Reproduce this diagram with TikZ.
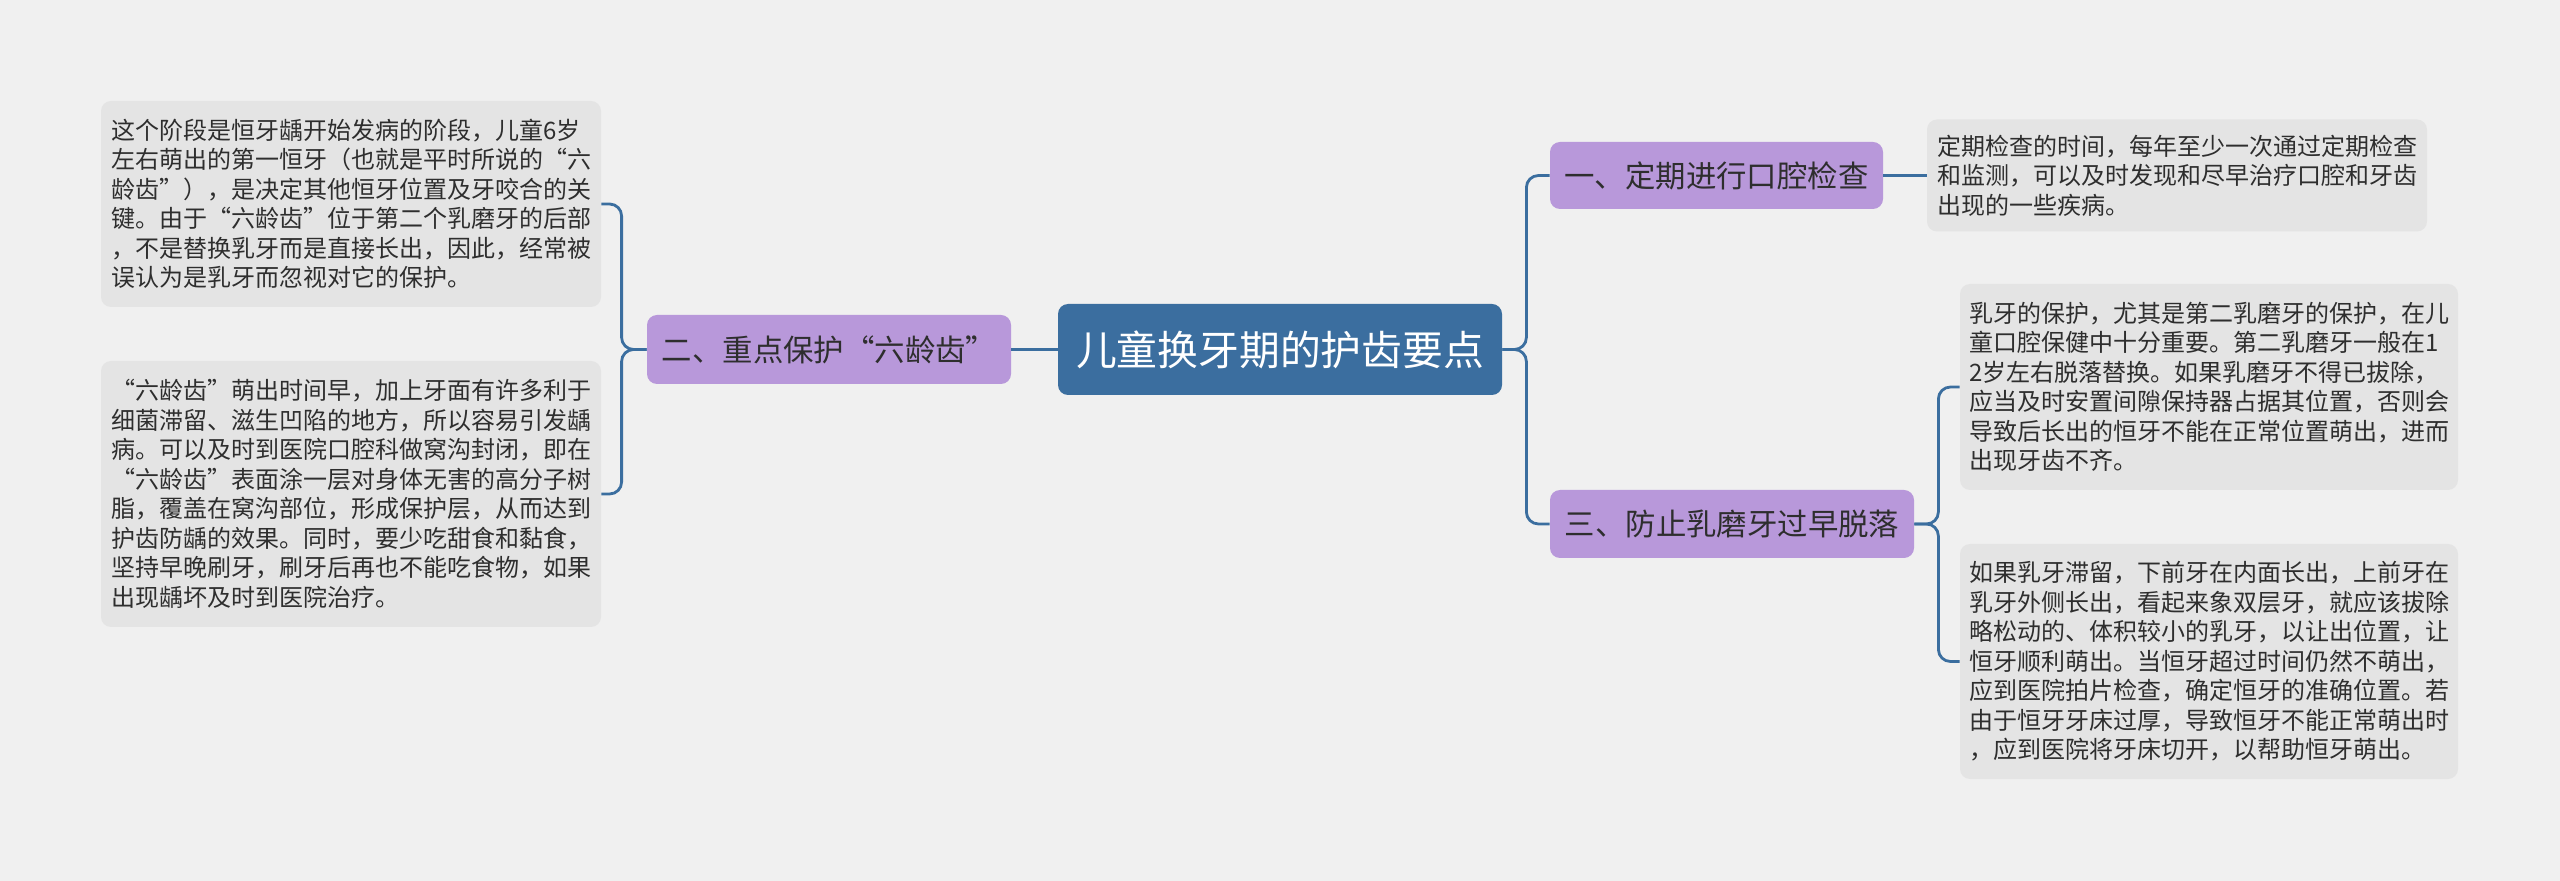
\documentclass[tikz,border=0pt]{standalone}
\usepackage{fontspec}
\setmainfont{Noto Sans CJK SC}
\usepackage{xcolor}
\usetikzlibrary{positioning, calc}
\definecolor{bgpaper}{HTML}{F0F0F0}
\definecolor{rootblue}{HTML}{3B6E9F}
\definecolor{topicpurple}{HTML}{B898DA}
\definecolor{leafgray}{HTML}{E4E4E4}
\definecolor{textdark}{HTML}{2E2E2E}
\begin{document}
\begin{tikzpicture}[
      x=0.5pt, y=-0.5pt,
      root/.style={fill=rootblue, rounded corners=5pt, text=white, inner sep=0pt,
        font=\fontsize{20.4}{24}\selectfont},
      topic/.style={fill=topicpurple, rounded corners=5pt, text=textdark, inner sep=0pt,
        font=\fontsize{15.2}{18}\selectfont},
      leaf/.style={fill=leafgray, rounded corners=5pt, text=textdark, inner sep=0pt,
        align=left, font=\fontsize{12}{14.75}\selectfont},
      link/.style={draw=rootblue, line width=1.4pt, rounded corners=6pt}]
    \useasboundingbox[fill=bgpaper] (0,0) rectangle (2560,881);
    % centre and main topics
    \node[root, minimum width=222pt, minimum height=45.5pt] (cen) at (1280,349.5) {儿童换牙期的护齿要点};
    \node[topic, minimum width=182pt, minimum height=34.5pt] (t2) at (829,349.5) {二、重点保护“六龄齿”};
    \node[topic, minimum width=166.5pt, minimum height=33.5pt] (t1) at (1716.5,175.5) {一、定期进行口腔检查};
    \node[topic, minimum width=182pt, minimum height=34pt] (t3) at (1732,524) {三、防止乳磨牙过早脱落};
    % notes
    \node[leaf, minimum width=250pt, minimum height=103pt] (n21) at (351,204) {%
这个阶段是恒牙龋开始发病的阶段，儿童6岁\\
左右萌出的第一恒牙（也就是平时所说的“六\\
龄齿”），是决定其他恒牙位置及牙咬合的关\\
键。由于“六龄齿”位于第二个乳磨牙的后部\\
，不是替换乳牙而是直接长出，因此，经常被\\
误认为是乳牙而忽视对它的保护。};
    \node[leaf, minimum width=250pt, minimum height=133pt] (n22) at (351,494) {%
“六龄齿”萌出时间早，加上牙面有许多利于\\
细菌滞留、滋生凹陷的地方，所以容易引发龋\\
病。可以及时到医院口腔科做窝沟封闭，即在\\
“六龄齿”表面涂一层对身体无害的高分子树\\
脂，覆盖在窝沟部位，形成保护层，从而达到\\
护齿防龋的效果。同时，要少吃甜食和黏食，\\
坚持早晚刷牙，刷牙后再也不能吃食物，如果\\
出现龋坏及时到医院治疗。};
    \node[leaf, minimum width=250pt, minimum height=56pt] (n11) at (2177,175.5) {%
定期检查的时间，每年至少一次通过定期检查\\
和监测，可以及时发现和尽早治疗口腔和牙齿\\
出现的一些疾病。};
    \node[leaf, minimum width=249pt, minimum height=103pt] (n31) at (2209,387) {%
乳牙的保护，尤其是第二乳磨牙的保护，在儿\\
童口腔保健中十分重要。第二乳磨牙一般在1\\
2岁左右脱落替换。如果乳磨牙不得已拔除，\\
应当及时安置间隙保持器占据其位置，否则会\\
导致后长出的恒牙不能在正常位置萌出，进而\\
出现牙齿不齐。};
    \node[leaf, minimum width=249pt, minimum height=117.5pt] (n32) at (2209,661.5) {%
如果乳牙滞留，下前牙在内面长出，上前牙在\\
乳牙外侧长出，看起来象双层牙，就应该拔除\\
略松动的、体积较小的乳牙，以让出位置，让\\
恒牙顺利萌出。当恒牙超过时间仍然不萌出，\\
应到医院拍片检查，确定恒牙的准确位置。若\\
由于恒牙牙床过厚，导致恒牙不能正常萌出时\\
，应到医院将牙床切开，以帮助恒牙萌出。};
    % connectors
    \draw[link] (cen.west) -- (t2.east);
    \draw[link] (cen.east) -- ++(24,0) |- (t1.west);
    \draw[link] (cen.east) -- ++(24,0) |- (t3.west);
    \draw[link] (t2.west) -- ++(-25,0) |- (n21.east);
    \draw[link] (t2.west) -- ++(-25,0) |- (n22.east);
    \draw[link] (t1.east) -- (n11.west);
    \draw[link] (t3.east) -- ++(24,0) |- (n31.west);
    \draw[link] (t3.east) -- ++(24,0) |- (n32.west);
  \end{tikzpicture}
\end{document}
